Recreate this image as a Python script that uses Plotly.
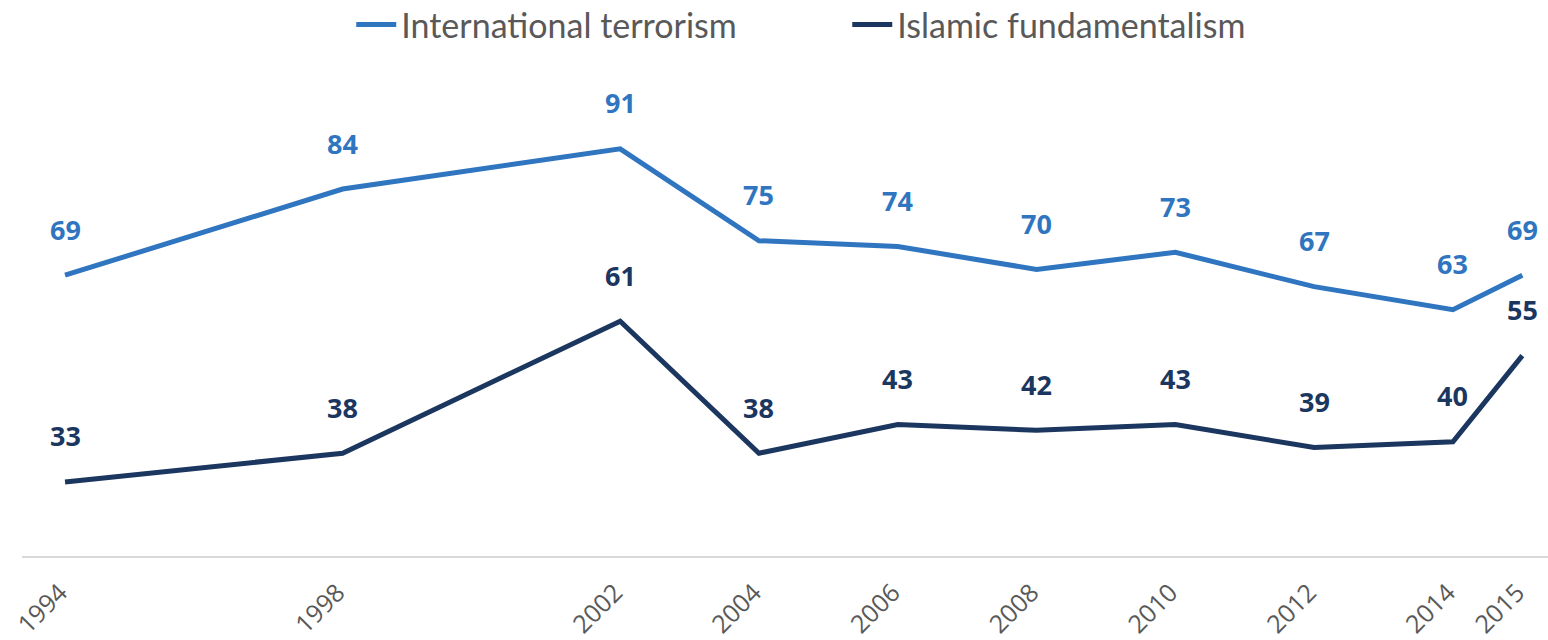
import plotly.graph_objects as go

years = [1994, 1998, 2002, 2004, 2006, 2008, 2010, 2012, 2014, 2015]
international_terrorism = [69, 84, 91, 75, 74, 70, 73, 67, 63, 69]
islamic_fundamentalism = [33, 38, 61, 38, 43, 42, 43, 39, 40, 55]
series_names = ["International terrorism", "Islamic fundamentalism"]
colors = ["#2F75C0", "#1B365F"]

fig = go.Figure()
for name, vals, col in zip(series_names, [international_terrorism, islamic_fundamentalism], colors):
    fig.add_trace(go.Scatter(x=years, y=vals, mode="lines", name=name,
                             line=dict(color=col, width=5)))
    for x, v in zip(years, vals):
        fig.add_annotation(x=x, y=v, text=str(v), showarrow=False, yshift=46,
                           font=dict(family="Open Sans", size=27, color=col, weight="bold"))

fig.update_layout(
    width=1548, height=640,
    margin=dict(l=22, r=0, t=34, b=84, autoexpand=False),
    paper_bgcolor="white", plot_bgcolor="white",
    showlegend=True,
    legend=dict(orientation="h", x=334/1548, xanchor="left", y=(556-25)/522, yanchor="middle",
                font=dict(family="Lato", size=34, color="#595959"),
                entrywidth=441, entrywidthmode="pixels", itemwidth=40, tracegroupgap=0),
    xaxis=dict(range=[1993.38, 2015.37], tickmode="array", tickvals=years,
               ticktext=[str(y) for y in years], tickangle=-45,
               tickfont=dict(family="Open Sans", size=25, color="#595959"),
               showgrid=False, zeroline=False, showline=True, linecolor="#D9D9D9",
               linewidth=2, ticks="", ticklabelshift=-5, ticklabelstandoff=10),
    yaxis=dict(range=[20.1, 111], visible=False, showgrid=False, zeroline=False),
)

fig.write_html("out.html")
